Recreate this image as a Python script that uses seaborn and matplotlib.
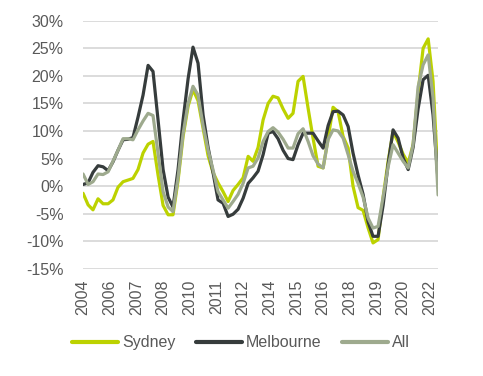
import matplotlib
matplotlib.use('Agg')
import matplotlib.pyplot as plt
import matplotlib.ticker as mticker
import seaborn as sns
import pandas as pd

# quarterly annual growth (%), starting Nov 2004
dates = pd.date_range('2004-11-01', periods=72, freq='3MS')

sydney = [-1.3, -3.4, -4.3, -2.3, -3.2, -3.2, -2.5, -0.2, 0.8, 1.1,
          1.4, 3.0, 6.0, 7.6, 8.1, 2.0, -3.5, -5.2, -5.2, 1.0,
          9.0, 14.5, 17.5, 15.5, 10.5, 5.5, 2.5, 0.6, -1.0, -2.8,
          -0.8, 0.3, 1.5, 5.4, 4.5, 7.0, 12.0, 15.0, 16.3, 16.0,
          14.0, 12.3, 13.2, 19.0, 19.9, 14.1, 8.7, 3.6, 3.3, 8.7,
          14.3, 13.5, 9.0, 6.9, 0.0, -3.9, -4.4, -7.6, -10.3, -9.7,
          -2.0, 4.5, 9.9, 8.0, 5.8, 4.2, 7.5, 17.0, 25.0, 26.7,
          19.0, 1.2]

melbourne = [0.3, 0.6, 2.5, 3.7, 3.5, 2.8, 4.4, 6.5, 8.4, 8.5,
             8.8, 12.5, 16.5, 21.9, 20.8, 12.0, 3.0, -2.0, -3.8, 3.0,
             12.0, 19.5, 25.2, 22.3, 12.9, 7.0, 2.5, -2.5, -3.1, -5.5,
             -5.1, -4.2, -2.2, 0.5, 1.5, 2.7, 5.7, 9.6, 9.9, 8.6,
             6.5, 5.0, 4.8, 7.5, 9.6, 9.6, 9.6, 8.2, 6.9, 11.0,
             13.5, 13.6, 12.9, 10.8, 6.0, 2.0, -1.5, -6.5, -9.1, -9.1,
             -3.5, 4.0, 10.2, 8.7, 5.1, 3.0, 7.0, 14.0, 19.3, 20.1,
             12.9, 1.0]

all_cities = [2.2, 0.3, 0.8, 2.2, 2.1, 2.6, 4.5, 6.5, 8.6, 8.6,
              8.4, 10.2, 11.8, 13.2, 12.8, 6.0, -1.0, -3.8, -4.6, 1.5,
              9.5, 15.0, 18.1, 16.5, 11.0, 6.5, 3.0, -1.0, -2.5, -4.0,
              -2.8, -1.5, 0.5, 3.3, 3.6, 5.1, 8.1, 9.9, 10.6, 9.8,
              8.5, 6.9, 6.9, 9.5, 10.4, 8.1, 5.5, 4.0, 3.3, 8.5,
              10.2, 10.0, 8.7, 5.7, 2.7, 0.5, -2.0, -5.8, -7.6, -7.3,
              -2.0, 3.5, 7.5, 6.0, 4.5, 3.3, 7.5, 18.0, 22.0, 23.8,
              16.0, -1.6]

series_names = ['Sydney', 'Melbourne', 'All']
colors = ['#bcd200', '#363c3c', '#9eaa8e']
tick_dates = pd.date_range('2004-11-01', periods=14, freq='16MS')

df = pd.concat([
    pd.DataFrame({'date': dates, 'value': sydney, 'series': 'Sydney'}),
    pd.DataFrame({'date': dates, 'value': melbourne, 'series': 'Melbourne'}),
    pd.DataFrame({'date': dates, 'value': all_cities, 'series': 'All'}),
])

sns.set_style('white')
plt.rcParams['font.family'] = ['Liberation Sans', 'DejaVu Sans']

fig = plt.figure(figsize=(4.83, 3.76), dpi=100)
ax = fig.add_axes([0.172, 0.285, 0.735, 0.66])

sns.lineplot(data=df, x='date', y='value', hue='series', hue_order=series_names,
             palette=colors, linewidth=2.3, ax=ax, legend=False)

ax.set_ylim(-15, 30)
ax.set_xlim(dates[0], dates[-1])
ax.yaxis.set_major_locator(mticker.MultipleLocator(5))
ax.yaxis.set_major_formatter(mticker.FuncFormatter(lambda v, p: f'{v:.0f}%'))
ax.set_xticks(tick_dates)
ax.set_xticklabels([d.strftime('%Y') for d in tick_dates], rotation=90)
ax.grid(axis='y', color='#d9d9d9', linewidth=1.3)
ax.set_axisbelow(True)
for s in ax.spines.values():
    s.set_visible(False)
ax.tick_params(axis='both', length=0, labelsize=11.5, labelcolor='#595959')
ax.tick_params(axis='x', pad=8)
ax.tick_params(axis='y', pad=14)
ax.set_xlabel('')
ax.set_ylabel('')

handles = [plt.Line2D([], [], color=c, linewidth=3) for c in colors]
fig.legend(handles, series_names, loc='center', bbox_to_anchor=(0.499, 0.088),
           ncol=3, frameon=False, fontsize=11.5, handlelength=2.9,
           handletextpad=0.25, columnspacing=1.25, labelcolor='#595959')

fig.savefig('out.png', dpi=100)
